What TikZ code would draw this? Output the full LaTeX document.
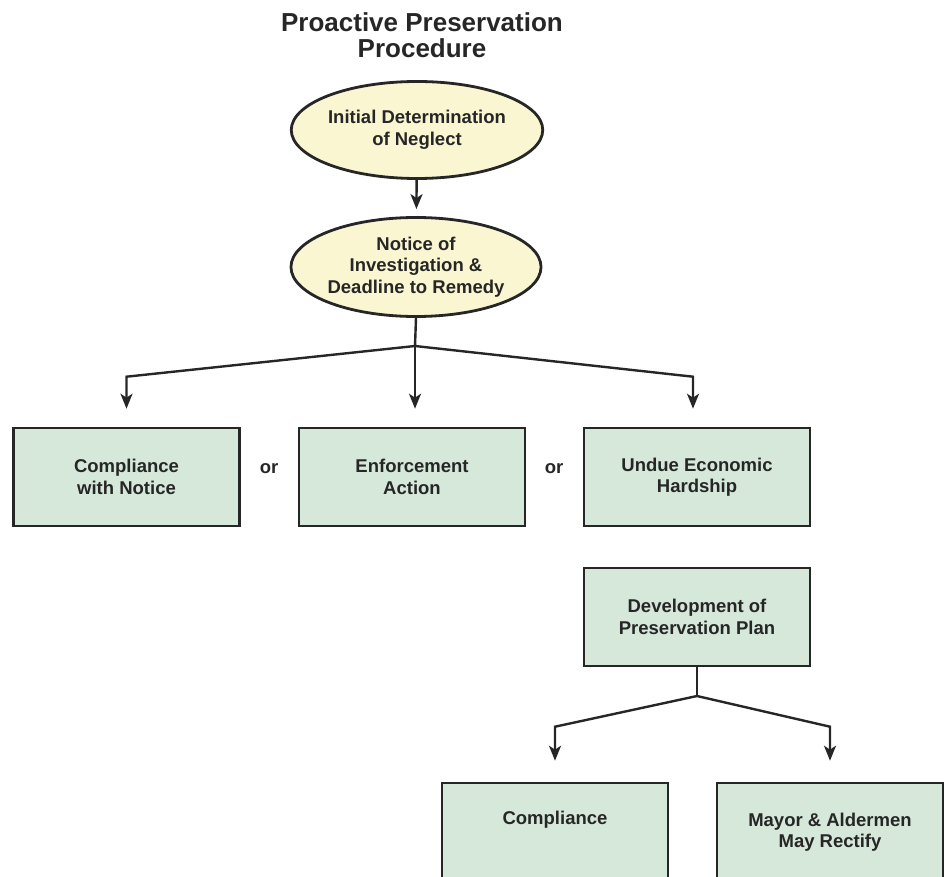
\documentclass[tikz,border=0pt]{standalone}
\usepackage{fontspec}
\setmainfont{Liberation Sans}
\usepackage{tikz}
\usetikzlibrary{shapes, arrows.meta, positioning}
\definecolor{ovalfill}{HTML}{FBF6D2}
\definecolor{boxfill}{HTML}{D5E8DA}
\definecolor{ink}{HTML}{262626}
\tikzstyle{block} = [rectangle, minimum width=226pt, minimum height=98pt, align=center, draw=ink, line width=2.6pt, fill=boxfill, font=\bfseries\fontsize{18.5}{21.5}\selectfont, text=ink]
\tikzstyle{oval} = [ellipse, minimum width=238pt, minimum height=97pt, inner sep=0pt, align=center, draw=ink, line width=2.8pt, fill=ovalfill, font=\bfseries\fontsize{18.5}{21.5}\selectfont, text=ink]
\tikzstyle{arrow} = [-{Stealth[length=15pt, width=12pt, inset=4pt]}, draw=ink, line width=2.4pt]

\begin{document}
\begin{tikzpicture}[x=1pt, y=1pt]
    \useasboundingbox (0, 0) rectangle (944, -877);
    \clip (0, 0) rectangle (944, -877);

    \node (title) [align=center, font=\bfseries\fontsize{26}{26}\selectfont, text=ink] at (422, -35) {Proactive Preservation\\Procedure};

    \node (initial) [oval] at (417, -130) {Initial Determination\\of Neglect};
    \node (notice) [oval, minimum height=99pt] at (416, -267) {Notice of\\Investigation \&\\Deadline to Remedy};

    \node (comply) [block] at (126.5, -477) {Compliance\\with Notice};
    \node (enforce) [block] at (412, -477) {Enforcement\\Action};
    \node (hardship) [block] at (697, -477) {Undue Economic\\Hardship};
    \node (or1) [font=\bfseries\fontsize{18.5}{21.5}\selectfont, text=ink] at (269, -469) {or};
    \node (or2) [font=\bfseries\fontsize{18.5}{21.5}\selectfont, text=ink] at (554, -469) {or};

    \node (plan) [block] at (697, -617) {Development of\\Preservation Plan};
    \node (final) [block] at (555, -832) {Compliance\\\strut};
    \node (mayor) [block] at (830, -832) {Mayor \& Aldermen\\May Rectify};

    \coordinate (split1) at (415, -346);
    \coordinate (split2) at (697, -696);

    \draw [arrow, shorten >=7pt] (initial) -- (notice);
    \draw [ink, line width=2.4pt] (notice.south) -- (split1);
    \draw [arrow, shorten >=18pt] (split1) -- ([yshift=50pt]comply.north) -- (comply.north);
    \draw [arrow, shorten >=18pt] (split1) -- (split1 |- enforce.north);
    \draw [arrow, shorten >=18pt] (split1) -- ([xshift=-4pt, yshift=50pt]hardship.north) -- ([xshift=-4pt]hardship.north);

    \draw [ink, line width=2.4pt] (plan.south) -- (split2);
    \draw [arrow, shorten >=21pt] (split2) -- ([yshift=55pt]final.north) -- (final.north);
    \draw [arrow, shorten >=21pt] (split2) -- ([yshift=55pt]mayor.north) -- (mayor.north);

\end{tikzpicture}
\end{document}
